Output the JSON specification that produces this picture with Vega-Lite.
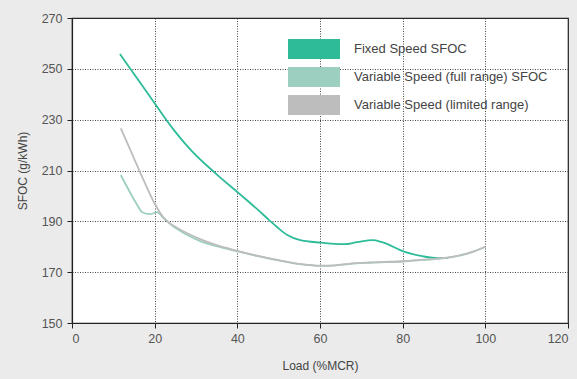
{
  "$schema": "https://vega.github.io/schema/vega-lite/v6.json",
  "width": 496,
  "height": 305,
  "autosize": {"type": "none"},
  "padding": {"left": 72, "top": 18, "right": 9, "bottom": 56},
  "background": "#ebebeb",
  "config": {
    "font": "Liberation Sans",
    "view": {"fill": "white", "stroke": "#222", "strokeWidth": 1.2},
    "axis": {
      "labelFont": "Liberation Sans",
      "titleFont": "Liberation Sans",
      "labelFontSize": 12.5,
      "titleFontSize": 12,
      "labelColor": "#555",
      "titleColor": "#444",
      "titleFontWeight": "normal",
      "domainColor": "#222",
      "domainWidth": 1.2,
      "tickColor": "#222",
      "tickSize": 5,
      "gridColor": "#333",
      "gridDash": [1, 1.5],
      "gridWidth": 1,
      "gridOpacity": 0.9
    }
  },
  "data": {
    "values": [
      {"series": "Fixed Speed SFOC", "load": 11.6, "sfoc": 255.8},
      {"series": "Fixed Speed SFOC", "load": 15, "sfoc": 248},
      {"series": "Fixed Speed SFOC", "load": 20, "sfoc": 236.5},
      {"series": "Fixed Speed SFOC", "load": 22.7, "sfoc": 230.2},
      {"series": "Fixed Speed SFOC", "load": 25, "sfoc": 225.2},
      {"series": "Fixed Speed SFOC", "load": 29, "sfoc": 217.6},
      {"series": "Fixed Speed SFOC", "load": 35, "sfoc": 208.5},
      {"series": "Fixed Speed SFOC", "load": 40.4, "sfoc": 201},
      {"series": "Fixed Speed SFOC", "load": 45, "sfoc": 194.5},
      {"series": "Fixed Speed SFOC", "load": 47.7, "sfoc": 190.5},
      {"series": "Fixed Speed SFOC", "load": 50, "sfoc": 187.2},
      {"series": "Fixed Speed SFOC", "load": 52.1, "sfoc": 184.6},
      {"series": "Fixed Speed SFOC", "load": 55, "sfoc": 182.7},
      {"series": "Fixed Speed SFOC", "load": 60.2, "sfoc": 181.6},
      {"series": "Fixed Speed SFOC", "load": 65.9, "sfoc": 181},
      {"series": "Fixed Speed SFOC", "load": 69, "sfoc": 181.8},
      {"series": "Fixed Speed SFOC", "load": 72.8, "sfoc": 182.6},
      {"series": "Fixed Speed SFOC", "load": 75, "sfoc": 181.8},
      {"series": "Fixed Speed SFOC", "load": 80.5, "sfoc": 178},
      {"series": "Fixed Speed SFOC", "load": 85, "sfoc": 176.2},
      {"series": "Fixed Speed SFOC", "load": 88.6, "sfoc": 175.5},
      {"series": "Fixed Speed SFOC", "load": 91, "sfoc": 175.6},
      {"series": "Variable Speed (full range) SFOC", "load": 11.8, "sfoc": 208.2},
      {"series": "Variable Speed (full range) SFOC", "load": 13.5, "sfoc": 203},
      {"series": "Variable Speed (full range) SFOC", "load": 15.5, "sfoc": 197.2},
      {"series": "Variable Speed (full range) SFOC", "load": 17, "sfoc": 193.6},
      {"series": "Variable Speed (full range) SFOC", "load": 18.9, "sfoc": 192.8},
      {"series": "Variable Speed (full range) SFOC", "load": 20.5, "sfoc": 193.6},
      {"series": "Variable Speed (full range) SFOC", "load": 22.2, "sfoc": 191.2},
      {"series": "Variable Speed (full range) SFOC", "load": 24, "sfoc": 188.6},
      {"series": "Variable Speed (full range) SFOC", "load": 27.9, "sfoc": 184.6},
      {"series": "Variable Speed (full range) SFOC", "load": 31, "sfoc": 182.2},
      {"series": "Variable Speed (full range) SFOC", "load": 35, "sfoc": 180.2},
      {"series": "Variable Speed (full range) SFOC", "load": 40, "sfoc": 178.2},
      {"series": "Variable Speed (full range) SFOC", "load": 45, "sfoc": 176.3},
      {"series": "Variable Speed (full range) SFOC", "load": 50, "sfoc": 174.6},
      {"series": "Variable Speed (full range) SFOC", "load": 55, "sfoc": 173.2},
      {"series": "Variable Speed (full range) SFOC", "load": 60.2, "sfoc": 172.5},
      {"series": "Variable Speed (full range) SFOC", "load": 63.5, "sfoc": 172.6},
      {"series": "Variable Speed (full range) SFOC", "load": 67, "sfoc": 173.2},
      {"series": "Variable Speed (full range) SFOC", "load": 72, "sfoc": 173.7},
      {"series": "Variable Speed (full range) SFOC", "load": 80, "sfoc": 174.2},
      {"series": "Variable Speed (full range) SFOC", "load": 86, "sfoc": 174.9},
      {"series": "Variable Speed (full range) SFOC", "load": 90.2, "sfoc": 175.5},
      {"series": "Variable Speed (full range) SFOC", "load": 94, "sfoc": 176.6},
      {"series": "Variable Speed (full range) SFOC", "load": 97, "sfoc": 178},
      {"series": "Variable Speed (full range) SFOC", "load": 100, "sfoc": 180},
      {"series": "Variable Speed (limited range)", "load": 11.8, "sfoc": 226.6},
      {"series": "Variable Speed (limited range)", "load": 14, "sfoc": 218.5},
      {"series": "Variable Speed (limited range)", "load": 16, "sfoc": 211},
      {"series": "Variable Speed (limited range)", "load": 18, "sfoc": 203.8},
      {"series": "Variable Speed (limited range)", "load": 20, "sfoc": 197},
      {"series": "Variable Speed (limited range)", "load": 22, "sfoc": 191.8},
      {"series": "Variable Speed (limited range)", "load": 23.5, "sfoc": 189.5},
      {"series": "Variable Speed (limited range)", "load": 25.5, "sfoc": 187.4},
      {"series": "Variable Speed (limited range)", "load": 27.9, "sfoc": 185.3},
      {"series": "Variable Speed (limited range)", "load": 31, "sfoc": 183},
      {"series": "Variable Speed (limited range)", "load": 35, "sfoc": 180.6},
      {"series": "Variable Speed (limited range)", "load": 40, "sfoc": 178.4},
      {"series": "Variable Speed (limited range)", "load": 45, "sfoc": 176.4},
      {"series": "Variable Speed (limited range)", "load": 50, "sfoc": 174.7},
      {"series": "Variable Speed (limited range)", "load": 55, "sfoc": 173.3},
      {"series": "Variable Speed (limited range)", "load": 60.2, "sfoc": 172.6},
      {"series": "Variable Speed (limited range)", "load": 63.5, "sfoc": 172.7},
      {"series": "Variable Speed (limited range)", "load": 67, "sfoc": 173.3},
      {"series": "Variable Speed (limited range)", "load": 72, "sfoc": 173.8},
      {"series": "Variable Speed (limited range)", "load": 80, "sfoc": 174.3},
      {"series": "Variable Speed (limited range)", "load": 86, "sfoc": 175},
      {"series": "Variable Speed (limited range)", "load": 90.2, "sfoc": 175.6},
      {"series": "Variable Speed (limited range)", "load": 94, "sfoc": 176.7},
      {"series": "Variable Speed (limited range)", "load": 97, "sfoc": 178.1},
      {"series": "Variable Speed (limited range)", "load": 100, "sfoc": 180}
    ]
  },
  "mark": {"type": "line", "interpolate": "monotone", "strokeWidth": 1.8},
  "encoding": {
    "x": {
      "field": "load", "type": "quantitative",
      "scale": {"domain": [0, 120], "nice": false},
      "axis": {"values": [0, 20, 40, 60, 80, 100, 120], "title": "Load (%MCR)", "labelPadding": 4, "titlePadding": 16}
    },
    "y": {
      "field": "sfoc", "type": "quantitative",
      "scale": {"domain": [150, 270], "nice": false, "zero": false},
      "axis": {"values": [150, 170, 190, 210, 230, 250, 270], "title": "SFOC (g/kWh)", "labelPadding": 5, "titlePadding": 12}
    },
    "color": {
      "field": "series", "type": "nominal",
      "scale": {
        "domain": ["Fixed Speed SFOC", "Variable Speed (full range) SFOC", "Variable Speed (limited range)"],
        "range": ["#2dbb98", "#9ccfc0", "#bdbdbd"]
      },
      "legend": {
        "title": null,
        "orient": "none",
        "legendX": 225,
        "legendY": 14,
        "symbolType": "M-2,-0.76L2,-0.76L2,0.76L-2,0.76Z",
        "symbolSize": 676,
        "symbolStrokeWidth": 0,
        "rowPadding": 5,
        "labelOffset": 27,
        "labelLimit": 0,
        "labelFontSize": 13,
        "labelColor": "#444",
        "labelFont": "Liberation Sans",
        "padding": 4,
        "encode": {
          "symbols": {"update": {"fill": {"scale": "color", "field": "value"}, "fillOpacity": {"value": 1}}}
        }
      }
    },
    "order": {"field": "series", "sort": "descending"}
  }
}
